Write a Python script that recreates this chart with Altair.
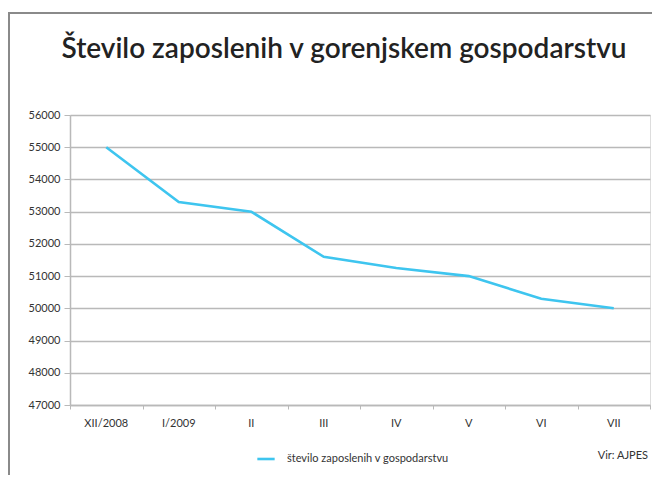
import altair as alt
import pandas as pd

months = ["XII/2008", "I/2009", "II", "III", "IV", "V", "VI", "VII"]
employees = [55000, 53300, 53000, 51600, 51250, 51000, 50300, 50000]
series_name = "število zaposlenih v gospodarstvu"
source_text = ["Vir: AJPES"]
title_text = ["Število zaposlenih v gorenjskem gospodarstvu"]

FONT = "Lato"
LINE = "#3ec5ef"
GRID = "#b9b9b9"

df = pd.DataFrame({
    "idx": list(range(len(months))),
    "month": months,
    "value": employees,
    "series": [series_name] * len(months),
})

n = len(months)

x_scale = alt.Scale(domain=[-0.5, n - 0.5], nice=False, zero=False)
y_scale = alt.Scale(domain=[47000, 56000], nice=False, zero=False)

base = alt.Chart(df)

line = base.mark_line(strokeWidth=2.6, clip=False).encode(
    x=alt.X("idx:Q", scale=x_scale,
            axis=alt.Axis(values=[i - 0.5 for i in range(n + 1)], labels=False,
                          grid=False, title=None, domainColor=GRID, domainWidth=1.5,
                          tickColor=GRID, tickSize=4, tickWidth=1, orient="bottom")),
    y=alt.Y("value:Q", scale=y_scale,
            axis=alt.Axis(values=list(range(47000, 56001, 1000)), title=None,
                          format="d", grid=True, gridColor=GRID, gridWidth=1.5,
                          domainColor=GRID, domainWidth=1.5, tickColor=GRID,
                          tickSize=6, labelFont=FONT, labelFontSize=11,
                          labelColor="#333333", labelPadding=4,
                          labelOverlap=False)),
    color=alt.Color("series:N", scale=alt.Scale(range=[LINE]),
                    legend=alt.Legend(title=None, orient="none", legendX=186,
                                      legendY=334, symbolType="stroke",
                                      symbolStrokeWidth=2.6, symbolSize=300,
                                      labelOffset=11,
                                      labelFont=FONT, labelFontSize=11,
                                      labelColor="#333333", labelLimit=0)),
)

xlabels = base.mark_text(
    baseline="middle", font=FONT, fontSize=11, color="#333333"
).encode(
    x=alt.X("idx:Q", scale=x_scale),
    y=alt.value(309),
    text="month:N",
)

src = alt.Chart(pd.DataFrame({"t": source_text})).mark_text(
    align="right", baseline="middle", font=FONT, fontSize=11, color="#333333"
).encode(text="t:N", x=alt.value(578), y=alt.value(341))

ttl = alt.Chart(pd.DataFrame({"t": title_text})).mark_text(
    align="center", baseline="alphabetic", font=FONT, fontSize=28, fontWeight=600,
    color="#222222"
).encode(text="t:N", x=alt.value(274), y=alt.value(-57))

border_left = alt.Chart(pd.DataFrame({"t": source_text})).mark_rule(
    color="#8a8a8a", strokeWidth=2).encode(
    x=alt.value(-61), y=alt.value(-102), y2=alt.value(380))
border_top = alt.Chart(pd.DataFrame({"t": source_text})).mark_rule(
    color="#8a8a8a", strokeWidth=2).encode(
    x=alt.value(-62), x2=alt.value(600), y=alt.value(-102))

chart = alt.layer(line, xlabels, src, ttl, border_left, border_top).properties(
    width=580, height=290,
    autosize=alt.AutoSizeParams(type="none"),
    padding={"left": 62, "top": 107, "right": 2, "bottom": 70},
).configure_view(stroke=None).configure(background="white")

chart.save("out.html", embed_options={"renderer": "svg", "actions": False})
